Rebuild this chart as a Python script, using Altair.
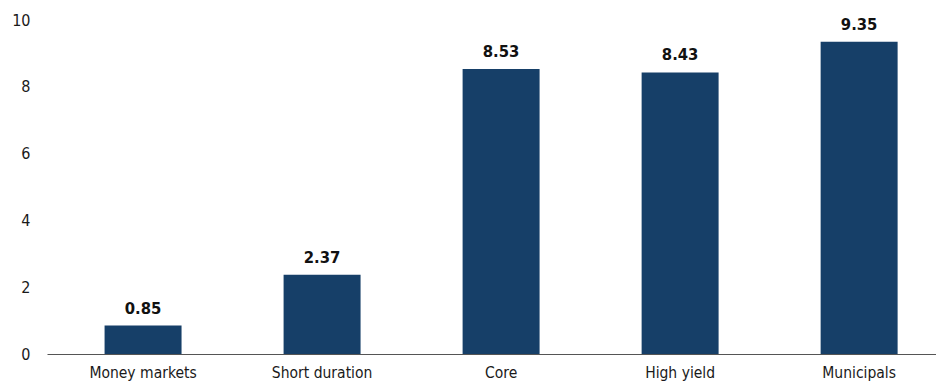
import altair as alt
import pandas as pd

categories = ["Money markets", "Short duration", "Core", "High yield", "Municipals"]
values = [0.85, 2.37, 8.53, 8.43, 9.35]

df = pd.DataFrame({"category": categories, "value": values})
df["label"] = df["value"].map(lambda v: f"{v:.2f}")

FONT = "DejaVu Sans Condensed, Liberation Sans Narrow, Roboto Condensed, Liberation Sans, Arial"

x = alt.X("category:N", sort=categories, title=None,
          scale=alt.Scale(paddingInner=0.57, paddingOuter=0.268, align=0.6),
          axis=alt.Axis(labelAngle=0, ticks=False, domain=True, domainColor="#555555",
                        domainWidth=1.2, labelPadding=11, labelFontSize=15.5,
                        labelColor="#1a1a1a", labelFont=FONT))
y = alt.Y("value:Q", title=None,
          scale=alt.Scale(domain=[0, 10], nice=False),
          axis=alt.Axis(values=[0, 2, 4, 6, 8, 10], grid=False, ticks=False, domain=False,
                        labelPadding=17, labelFontSize=16, labelColor="#1a1a1a",
                        labelFont=FONT))

bars = alt.Chart(df).mark_bar(color="#163f68").encode(x=x, y=y)
text = alt.Chart(df).mark_text(baseline="bottom", dy=-9, fontSize=16.5, fontWeight="bold",
                               font=FONT, color="#111111").encode(
    x=alt.X("category:N", sort=categories), y="value:Q", text="label:N")

chart = (bars + text).properties(
    width=889, height=334,
    autosize=alt.AutoSizeParams(type="none"),
    padding={"left": 47, "top": 20, "right": 0, "bottom": 29},
).configure_view(stroke=None)

chart.save("out.html", embed_options={"renderer": "svg", "actions": False})
